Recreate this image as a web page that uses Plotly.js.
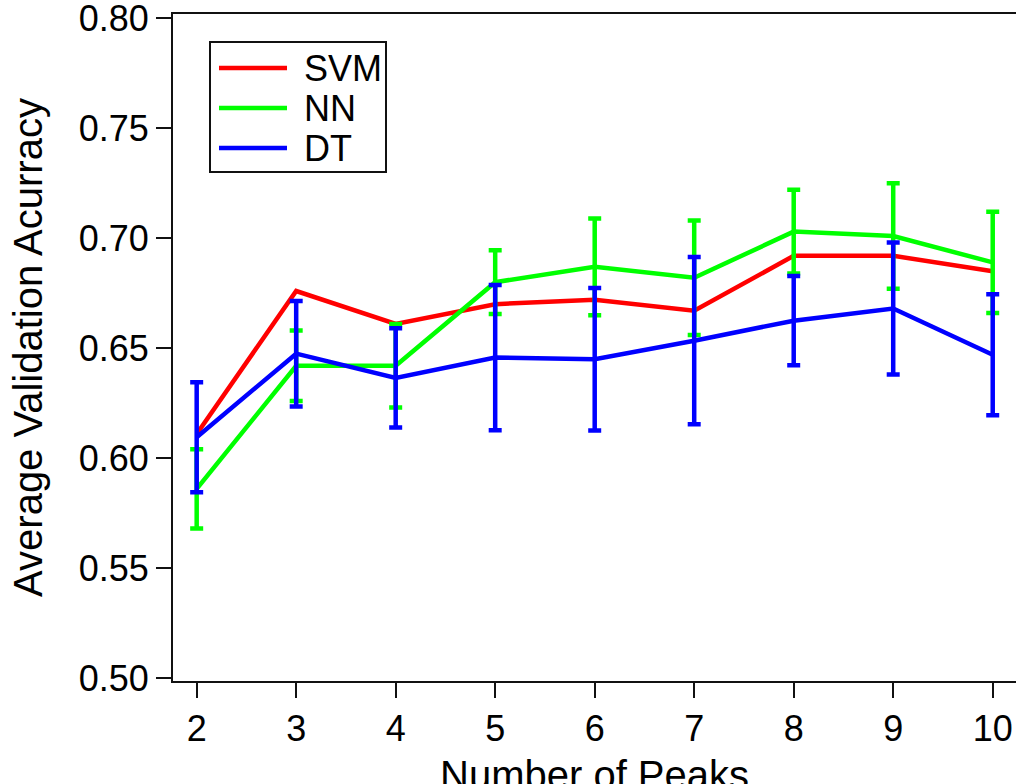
<!DOCTYPE html>
<html>
<head>
<meta charset="utf-8">
<script src="https://cdn.plot.ly/plotly-3.0.1.min.js"></script>
<style>
  html, body { margin: 0; padding: 0; background: #fff; }
  #chart { width: 1016px; height: 784px; }
</style>
</head>
<body>
<div id="chart"></div>
<script>
// Number of peaks used as input features
const peaks = [2, 3, 4, 5, 6, 7, 8, 9, 10];

// Mean validation accuracy per classifier
const svmAcc = [0.611, 0.676, 0.661, 0.670, 0.672, 0.667, 0.692, 0.692, 0.685];
const nnAcc  = [0.586, 0.642, 0.642, 0.680, 0.687, 0.682, 0.703, 0.701, 0.689];
const dtAcc  = [0.6095, 0.6475, 0.6365, 0.6457, 0.645, 0.6534, 0.6625, 0.668, 0.647];

// Spread (± one standard deviation) across validation folds
const nnErr = [0.018, 0.016, 0.019, 0.0145, 0.022, 0.026, 0.019, 0.024, 0.023];
const dtErr = [0.025, 0.024, 0.0226, 0.033, 0.0324, 0.038, 0.0203, 0.030, 0.0275];

const seriesNames = ['SVM', 'NN', 'DT'];
const seriesColors = ['#ff0000', '#00ff00', '#0000ff'];
const xTitle = 'Number of Peaks';
const yTitle = 'Average Validation Acurracy';

const W = 1016, H = 784;
const M = { l: 173, r: 0, t: 14, b: 103 };
const plotW = W - M.l - M.r, plotH = H - M.t - M.b;
const FONT = 'Liberation Sans, Arial, Helvetica, sans-serif';

function errBar(arr, color) {
  return { type: 'data', array: arr, visible: true, color: color, thickness: 4.5, width: 6.5 };
}

const traces = [
  { x: peaks, y: svmAcc, name: seriesNames[0], mode: 'lines',
    line: { color: seriesColors[0], width: 4.5 } },
  { x: peaks, y: nnAcc, name: seriesNames[1], mode: 'lines',
    line: { color: seriesColors[1], width: 4.5 }, error_y: errBar(nnErr, seriesColors[1]) },
  { x: peaks, y: dtAcc, name: seriesNames[2], mode: 'lines',
    line: { color: seriesColors[2], width: 4.5 }, error_y: errBar(dtErr, seriesColors[2]) }
];

// Pixel helpers for items placed in paper coordinates
const px = v => (v - M.l) / plotW;
const py = v => (M.t + plotH - v) / plotH;

const keyBox = { x0: 210, x1: 386, y0: 42, y1: 172 };
const keyRows = [68, 108, 148];
const shapes = [{
  type: 'rect', xref: 'paper', yref: 'paper',
  x0: px(keyBox.x0), x1: px(keyBox.x1), y0: py(keyBox.y1), y1: py(keyBox.y0),
  line: { color: '#111', width: 2 }, fillcolor: '#fff'
}];
const annotations = [];
seriesNames.forEach((name, i) => {
  shapes.push({
    type: 'line', xref: 'paper', yref: 'paper',
    x0: px(219), x1: px(287), y0: py(keyRows[i]), y1: py(keyRows[i]),
    line: { color: seriesColors[i], width: 4.5 }
  });
  annotations.push({
    xref: 'paper', yref: 'paper', x: px(302), y: py(keyRows[i]),
    xanchor: 'left', yanchor: 'middle', showarrow: false, text: name,
    font: { family: FONT, size: 36, color: '#000' }
  });
});

// X-axis title sits low, partly past the bottom edge of the canvas
annotations.push({
  xref: 'paper', yref: 'paper', x: 0.5, y: py(751),
  xanchor: 'center', yanchor: 'top', showarrow: false, text: xTitle,
  font: { family: FONT, size: 40, color: '#000' }
});

const axisCommon = {
  showline: true, linecolor: '#111', linewidth: 2,
  ticks: 'outside', ticklen: 15, tickwidth: 2, tickcolor: '#111',
  showgrid: false, zeroline: false, ticklabeloverflow: 'allow',
  tickfont: { family: FONT, size: 36, color: '#000' }
};

const layout = {
  width: W, height: H,
  margin: M,
  paper_bgcolor: '#fff', plot_bgcolor: '#fff',
  showlegend: false,
  font: { family: FONT, color: '#000' },
  xaxis: Object.assign({}, axisCommon, {
    range: [1.762, 10.234], tickvals: peaks, mirror: true
  }),
  yaxis: Object.assign({}, axisCommon, {
    range: [0.49864, 0.80196], tick0: 0.5, dtick: 0.05, tickformat: '.2f',
    title: { text: yTitle, font: { family: FONT, size: 40, color: '#000' }, standoff: 24 }
  }),
  shapes: shapes,
  annotations: annotations
};

Plotly.newPlot('chart', traces, layout, { displayModeBar: false, staticPlot: true });
</script>
</body>
</html>
